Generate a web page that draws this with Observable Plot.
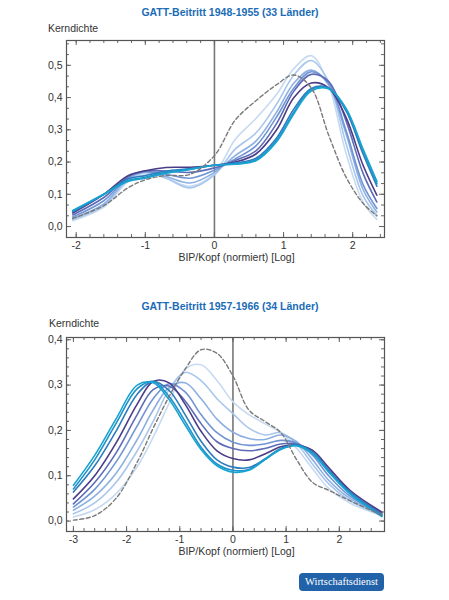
<!DOCTYPE html>
<html>
<head>
<meta charset="utf-8">
<script src="https://cdn.jsdelivr.net/npm/d3@7"></script>
<script src="https://cdn.jsdelivr.net/npm/@observablehq/plot@0.6"></script>
<style>
  body { margin: 0; background: #fff; }
  #page { position: relative; width: 449px; height: 600px; font-family: "Liberation Sans", Arial, sans-serif; color: #333; overflow: hidden; }
  .title { position: absolute; left: 0; width: 460px; text-align: center; font-weight: bold; font-size: 10.5px; color: #1b6cb6; line-height: 12px; }
  .ylab { position: absolute; font-size: 10.5px; color: #333; line-height: 12px; }
  .chart { position: absolute; left: 0; }
  #badge { position: absolute; left: 299px; top: 573px; width: 85px; height: 18px; border-radius: 4px; background: #2162a8;
           color: #fff; font-family: "Liberation Serif", "DejaVu Serif", serif; font-size: 10.5px; line-height: 18px; text-align: center; }
</style>
</head>
<body>
<div id="page">
  <div class="title" style="top:6px">GATT-Beitritt 1948-1955 (33 Länder)</div>
  <div class="ylab" style="left:48px; top:22px">Kerndichte</div>
  <div class="chart" id="chartTop" style="top:36px"></div>

  <div class="title" style="top:300px">GATT-Beitritt 1957-1966 (34 Länder)</div>
  <div class="ylab" style="left:49px; top:317px">Kerndichte</div>
  <div class="chart" id="chartBottom" style="top:333px"></div>

  <div id="badge">Wirtschaftsdienst</div>
</div>
<script>
// Kernel density estimates of normalised log GDP per capita, one curve per year
// (light blue = early years, through purple, to cyan = late years); dashed = reference.

const seriesNames = ["j1", "j2", "j3", "j4", "j5", "j6", "j7", "j8", "j9"];
const seriesColors = ["#c6daf2", "#a9c6ec", "#8cb0e2", "#7195d4", "#5e6cb8", "#4a3c86", "#2f7cbd", "#1f92c9", "#17a4d2"];

// ---- GATT accession 1948-1955 ----
const topX = [-2.05, -1.6, -1.25, -1.0, -0.7, -0.35, 0, 0.3, 0.6, 0.9, 1.15, 1.4, 1.65, 1.9, 2.15, 2.35];
const topCurves = [
  [0.018, 0.060, 0.140, 0.165, 0.150, 0.125, 0.165, 0.270, 0.335, 0.410, 0.490, 0.530, 0.440, 0.230, 0.075, 0.022],
  [0.022, 0.065, 0.145, 0.168, 0.150, 0.120, 0.160, 0.240, 0.290, 0.380, 0.470, 0.515, 0.450, 0.260, 0.095, 0.035],
  [0.026, 0.070, 0.150, 0.170, 0.155, 0.135, 0.168, 0.220, 0.265, 0.355, 0.445, 0.485, 0.440, 0.290, 0.115, 0.045],
  [0.030, 0.080, 0.152, 0.170, 0.162, 0.150, 0.175, 0.210, 0.250, 0.340, 0.430, 0.480, 0.445, 0.300, 0.130, 0.056],
  [0.036, 0.090, 0.155, 0.172, 0.172, 0.168, 0.182, 0.205, 0.235, 0.320, 0.420, 0.472, 0.450, 0.330, 0.165, 0.076],
  [0.042, 0.100, 0.158, 0.173, 0.183, 0.184, 0.190, 0.200, 0.225, 0.300, 0.400, 0.445, 0.430, 0.340, 0.190, 0.097],
  [0.046, 0.100, 0.148, 0.158, 0.172, 0.180, 0.190, 0.197, 0.212, 0.275, 0.365, 0.428, 0.430, 0.360, 0.225, 0.125],
  [0.048, 0.100, 0.143, 0.153, 0.168, 0.178, 0.190, 0.195, 0.207, 0.268, 0.355, 0.425, 0.428, 0.365, 0.235, 0.133],
  [0.050, 0.100, 0.140, 0.150, 0.165, 0.177, 0.190, 0.193, 0.204, 0.263, 0.350, 0.420, 0.427, 0.368, 0.240, 0.140]
];
const topRef = [0.025, 0.065, 0.120, 0.145, 0.158, 0.162, 0.220, 0.330, 0.390, 0.440, 0.470, 0.430, 0.285, 0.155, 0.072, 0.033];
const topXTicks = [-2, -1, 0, 1, 2];
const topYTicks = [0, 0.1, 0.2, 0.3, 0.4, 0.5];

// ---- GATT accession 1957-1966 ----
const botX = [-3.0, -2.6, -2.2, -1.8, -1.5, -1.2, -0.9, -0.6, -0.3, 0, 0.3, 0.6, 0.9, 1.2, 1.5, 1.8, 2.2, 2.8];
const botCurves = [
  [0.009, 0.025, 0.060, 0.120, 0.185, 0.260, 0.335, 0.345, 0.310, 0.263, 0.235, 0.215, 0.195, 0.160, 0.115, 0.072, 0.040, 0.012],
  [0.016, 0.040, 0.085, 0.155, 0.220, 0.290, 0.328, 0.310, 0.270, 0.237, 0.205, 0.190, 0.195, 0.170, 0.125, 0.082, 0.045, 0.013],
  [0.024, 0.055, 0.105, 0.180, 0.245, 0.295, 0.305, 0.270, 0.225, 0.196, 0.182, 0.180, 0.190, 0.175, 0.135, 0.090, 0.050, 0.015],
  [0.031, 0.070, 0.130, 0.210, 0.270, 0.303, 0.285, 0.235, 0.195, 0.174, 0.167, 0.170, 0.178, 0.172, 0.145, 0.100, 0.055, 0.016],
  [0.038, 0.085, 0.150, 0.235, 0.290, 0.298, 0.265, 0.215, 0.175, 0.160, 0.155, 0.160, 0.170, 0.170, 0.152, 0.112, 0.064, 0.018],
  [0.049, 0.100, 0.172, 0.258, 0.308, 0.305, 0.258, 0.198, 0.155, 0.138, 0.135, 0.148, 0.164, 0.168, 0.156, 0.118, 0.068, 0.020],
  [0.064, 0.122, 0.198, 0.280, 0.308, 0.288, 0.235, 0.176, 0.135, 0.119, 0.118, 0.137, 0.160, 0.168, 0.152, 0.112, 0.064, 0.014],
  [0.071, 0.135, 0.215, 0.292, 0.308, 0.275, 0.220, 0.163, 0.126, 0.112, 0.114, 0.136, 0.159, 0.167, 0.150, 0.110, 0.062, 0.012],
  [0.079, 0.145, 0.225, 0.300, 0.305, 0.268, 0.212, 0.158, 0.122, 0.108, 0.112, 0.135, 0.158, 0.166, 0.148, 0.108, 0.060, 0.010]
];
const botRef = [0.002, 0.012, 0.050, 0.130, 0.205, 0.275, 0.335, 0.378, 0.370, 0.320, 0.245, 0.220, 0.195, 0.135, 0.085, 0.068, 0.045, 0.013];
const botXTicks = [-3, -2, -1, 0, 1, 2];
const botYTicks = [0, 0.1, 0.2, 0.3, 0.4];

const zeroLine = [0];
const xLabel = "BIP/Kopf (normiert) [Log]";

const W = 449, ML = 66, MR = 65, MT = 4, MB = 35;

function minorTicks(domain, step) {
  const lo = Math.ceil((domain[0]) / step - 1e-9), hi = Math.floor(domain[1] / step + 1e-9);
  return d3.range(lo, hi + 1).map(k => +(k * step).toFixed(6));
}

function densityChart(el, {xs, curves, ref, xDomain, yDomain, xTicks, yTicks, xStep, yStep, height}) {
  const rows = [];
  curves.forEach((vals, i) => vals.forEach((v, j) => rows.push({x: xs[j], y: v, s: seriesNames[i]})));
  const refRows = ref.map((v, j) => ({x: xs[j], y: v}));
  const fw = W - ML - MR, fh = height - MT - MB;
  const span = (d, dom) => (d - dom[0]) / (dom[1] - dom[0]);
  const xMinor = minorTicks(xDomain, xStep).filter(d => span(d, xDomain) > 0.01 && span(d, xDomain) < 0.99);
  const yMinor = minorTicks(yDomain, yStep).filter(d => span(d, yDomain) > 0.01 && span(d, yDomain) < 0.99);
  const tickColor = "#666";
  const plot = Plot.plot({
    width: W, height,
    marginLeft: ML, marginRight: MR, marginTop: MT, marginBottom: MB,
    style: {fontFamily: "'Liberation Sans', Arial, sans-serif", fontSize: "10.5px", color: "#333", background: "transparent", overflow: "visible"},
    x: {domain: xDomain},
    y: {domain: yDomain},
    color: {domain: seriesNames, range: seriesColors},
    marks: [
      Plot.ruleX(zeroLine, {stroke: "#777", strokeWidth: 1.6}),
      Plot.line(rows, {x: "x", y: "y", z: "s", stroke: "s", strokeWidth: 1.6, curve: "catmull-rom"}),
      Plot.line(refRows, {x: "x", y: "y", stroke: "#7a7a7a", strokeWidth: 1.4, strokeDasharray: "4,2.5", curve: "catmull-rom"}),
      // inward ticks on all four sides
      Plot.tickX(xMinor, {insetTop: fh - 3, stroke: tickColor}),
      Plot.tickX(xMinor, {insetBottom: fh - 3, stroke: tickColor}),
      Plot.tickX(xTicks, {insetTop: fh - 5, stroke: tickColor}),
      Plot.tickX(xTicks, {insetBottom: fh - 5, stroke: tickColor}),
      Plot.tickY(yMinor, {insetRight: fw - 3, stroke: tickColor}),
      Plot.tickY(yMinor, {insetLeft: fw - 3, stroke: tickColor}),
      Plot.tickY(yTicks, {insetRight: fw - 5, stroke: tickColor}),
      Plot.tickY(yTicks, {insetLeft: fw - 5, stroke: tickColor}),
      Plot.frame({stroke: "#555", strokeWidth: 1.2}),
      Plot.axisX(xTicks, {tickSize: 0, tickPadding: 4, tickFormat: d => String(d), label: null}),
      Plot.axisY(yTicks, {tickSize: 0, tickPadding: 4, tickFormat: d => d.toFixed(1).replace(".", ","), label: null}),
      Plot.text([xLabel], {frameAnchor: "bottom", dy: 23, dx: 11, text: d => d, fontSize: 10.5, fill: "#333"})
    ]
  });
  document.getElementById(el).appendChild(plot);
}

densityChart("chartTop", {
  xs: topX, curves: topCurves, ref: topRef,
  xDomain: [-2.14, 2.46], yDomain: [-0.034, 0.577],
  xTicks: topXTicks, yTicks: topYTicks, xStep: 0.2, yStep: 0.1 / 3,
  height: 236
});

densityChart("chartBottom", {
  xs: botX, curves: botCurves, ref: botRef,
  xDomain: [-3.13, 2.85], yDomain: [-0.023, 0.405],
  xTicks: botXTicks, yTicks: botYTicks, xStep: 0.2, yStep: 0.02,
  height: 233
});
</script>
</body>
</html>
